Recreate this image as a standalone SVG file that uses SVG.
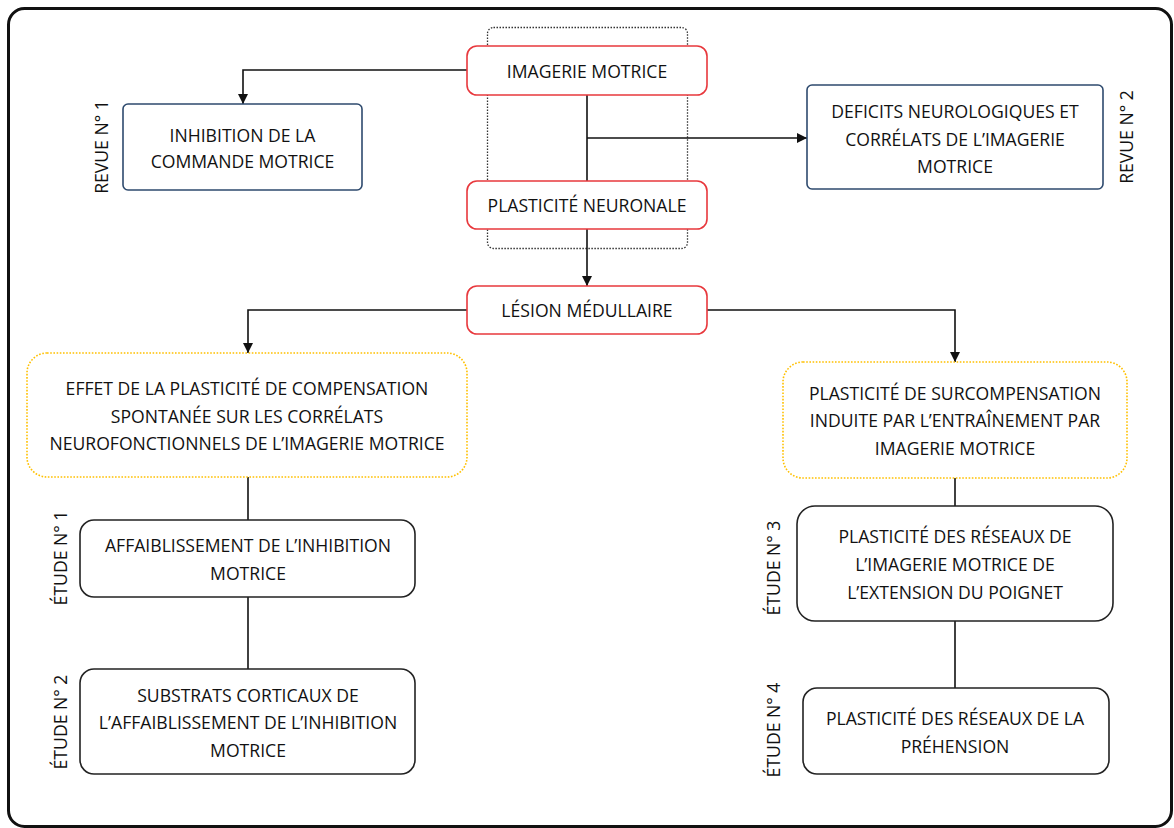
<svg xmlns="http://www.w3.org/2000/svg" width="1174" height="828" viewBox="0 0 1174 828">
<style>
text{font-family:"Open Sans","Liberation Sans",sans-serif;font-size:17.6px;fill:#111;text-anchor:middle}
.red{fill:#fff;stroke:#e8383d;stroke-width:1.6}
.blue{fill:#fff;stroke:#2e4a6e;stroke-width:1.6}
.ora{fill:#fff;stroke:#ffc000;stroke-width:1.6;stroke-dasharray:1.6 1.6}
.blk{fill:#fff;stroke:#222;stroke-width:1.6}
.con{fill:none;stroke:#111;stroke-width:1.6}
</style>
<defs>
<marker id="arr" viewBox="0 0 10 10" refX="10" refY="5" markerWidth="10" markerHeight="10" markerUnits="userSpaceOnUse" orient="auto">
<path d="M0,0 L10,5 L0,10 Z" fill="#111"/>
</marker>
</defs>
<rect x="8.5" y="8.5" width="1163" height="818" rx="16" fill="#fff" stroke="#111" stroke-width="3"/>
<rect id="group-box" x="487.5" y="27.5" width="200" height="221" rx="6" fill="none" stroke="#333" stroke-width="1.3" stroke-dasharray="1.5 1.5"/>
<g id="connectors">
<path class="con" d="M467,70 H243 V104" marker-end="url(#arr)"/>
<path class="con" d="M587,95 V181"/>
<path class="con" d="M587,138 H807" marker-end="url(#arr)"/>
<path class="con" d="M587,229 V286" marker-end="url(#arr)"/>
<path class="con" d="M467,310 H248 V353" marker-end="url(#arr)"/>
<path class="con" d="M707,310 H955 V362" marker-end="url(#arr)"/>
<path class="con" d="M248,477 V520"/>
<path class="con" d="M248,597 V669"/>
<path class="con" d="M955,478 V506"/>
<path class="con" d="M955,621 V688"/>
</g>
<g id="imagerie">
<rect class="red" x="467" y="46" width="240" height="49" rx="10"/>
<text x="587" y="78">IMAGERIE MOTRICE</text>
</g>
<g id="plasticite">
<rect class="red" x="467" y="181" width="240" height="48" rx="10"/>
<text x="587" y="212">PLASTICITÉ NEURONALE</text>
</g>
<g id="lesion">
<rect class="red" x="467" y="286" width="240" height="48" rx="10"/>
<text x="587" y="317">LÉSION MÉDULLAIRE</text>
</g>
<g id="inhibition">
<rect class="blue" x="123" y="104" width="239" height="86" rx="5"/>
<text x="242.5" y="142">INHIBITION DE LA</text>
<text x="242.5" y="168">COMMANDE MOTRICE</text>
</g>
<g id="revue1"><text transform="translate(108,147) rotate(-90)">REVUE N° 1</text></g>
<g id="deficits">
<rect class="blue" x="807" y="85" width="296" height="104" rx="5"/>
<text x="955" y="118">DEFICITS NEUROLOGIQUES ET</text>
<text x="955" y="146">CORRÉLATS DE L’IMAGERIE</text>
<text x="955" y="173">MOTRICE</text>
</g>
<g id="revue2"><text transform="translate(1133,137) rotate(-90)">REVUE N° 2</text></g>
<g id="effet">
<rect class="ora" x="27" y="353" width="440" height="124" rx="20"/>
<text x="247" y="395">EFFET DE LA PLASTICITÉ DE COMPENSATION</text>
<text x="247" y="423">SPONTANÉE SUR LES CORRÉLATS</text>
<text x="247" y="450">NEUROFONCTIONNELS DE L’IMAGERIE MOTRICE</text>
</g>
<g id="surcomp">
<rect class="ora" x="783" y="362" width="344" height="116" rx="20"/>
<text x="955" y="400">PLASTICITÉ DE SURCOMPENSATION</text>
<text x="955" y="427">INDUITE PAR L’ENTRAÎNEMENT PAR</text>
<text x="955" y="455">IMAGERIE MOTRICE</text>
</g>
<g id="affaiblissement">
<rect class="blk" x="80" y="520" width="335" height="77" rx="14"/>
<text x="248" y="552">AFFAIBLISSEMENT DE L’INHIBITION</text>
<text x="248" y="580">MOTRICE</text>
</g>
<g id="etude1"><text transform="translate(67,558) rotate(-90)">ÉTUDE N° 1</text></g>
<g id="substrats">
<rect class="blk" x="80" y="669" width="335" height="105" rx="14"/>
<text x="248" y="702">SUBSTRATS CORTICAUX DE</text>
<text x="248" y="729">L’AFFAIBLISSEMENT DE L’INHIBITION</text>
<text x="248" y="757">MOTRICE</text>
</g>
<g id="etude2"><text transform="translate(67,722) rotate(-90)">ÉTUDE N° 2</text></g>
<g id="poignet">
<rect class="blk" x="797" y="506" width="316" height="115" rx="18"/>
<text x="955" y="543">PLASTICITÉ DES RÉSEAUX DE</text>
<text x="955" y="571">L’IMAGERIE MOTRICE DE</text>
<text x="955" y="599">L’EXTENSION DU POIGNET</text>
</g>
<g id="etude3"><text transform="translate(780,568) rotate(-90)">ÉTUDE N° 3</text></g>
<g id="prehension">
<rect class="blk" x="803" y="688" width="306" height="86" rx="14"/>
<text x="955" y="725">PLASTICITÉ DES RÉSEAUX DE LA</text>
<text x="955" y="753">PRÉHENSION</text>
</g>
<g id="etude4"><text transform="translate(780,730) rotate(-90)">ÉTUDE N° 4</text></g>
</svg>
